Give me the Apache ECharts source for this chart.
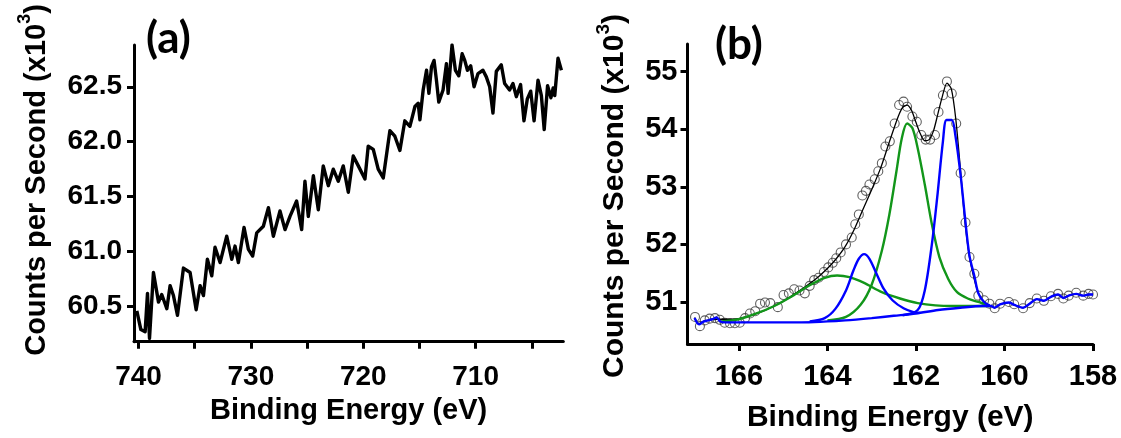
<!DOCTYPE html>
<html>
<head>
<meta charset="utf-8">
<script src="https://cdn.jsdelivr.net/npm/echarts@6/dist/echarts.min.js"></script>
<style>
html,body{margin:0;padding:0;background:#fff;}
#c{width:1121px;height:438px;}
</style>
</head>
<body>
<div id="c"></div>
<script>
// ---------- Panel (a) ----------
const leftEV = [740.15,739.79,739.41,739.2,739.02,738.67,738.22,737.93,737.48,737.19,736.89,736.53,736.0,735.41,734.87,734.52,734.22,733.87,733.48,733.19,732.74,732.15,731.7,731.41,731.11,730.61,730.22,729.84,729.48,728.89,728.44,728.0,727.41,726.96,726.52,725.93,725.48,725.19,724.89,724.44,724.0,723.56,723.11,722.67,722.22,721.78,721.33,720.89,720.44,719.85,719.56,719.11,718.67,718.22,717.63,717.19,716.74,716.3,715.85,715.4,715.11,714.96,714.67,714.37,714.16,713.93,713.7,713.49,713.28,712.9,712.6,712.45,712.1,711.8,711.5,711.2,710.97,710.73,710.44,710.14,709.79,709.35,709.05,708.75,708.46,708.16,707.72,707.42,706.98,706.68,706.38,706.0,705.7,705.4,705.1,704.8,704.45,704.15,703.9,703.6,703.3,703.1,702.96,702.67,702.37];
const leftCPS = [60.46,60.29,60.27,60.62,60.21,60.81,60.54,60.61,60.48,60.69,60.60,60.42,60.85,60.81,60.47,60.69,60.60,60.93,60.78,61.04,60.90,61.14,60.93,61.05,60.90,61.22,61.02,60.96,61.17,61.23,61.40,61.14,61.37,61.20,61.32,61.46,61.20,61.64,61.32,61.69,61.38,61.78,61.60,61.75,61.64,61.78,61.54,61.87,61.78,61.66,61.96,61.93,61.75,61.67,62.10,62.05,61.92,62.19,62.14,62.32,62.35,62.20,62.47,62.65,62.44,62.68,62.74,62.56,62.36,62.47,62.71,62.44,62.88,62.65,62.60,62.80,62.74,62.65,62.69,62.50,62.62,62.65,62.59,62.50,62.26,62.64,62.70,62.53,62.47,62.53,62.41,62.52,62.19,62.39,62.46,62.19,62.56,62.42,62.11,62.51,62.40,62.49,62.42,62.76,62.65];
const leftXLabels = [740,730,720,710];
const leftXTicks = [740,735,730,725,720,715,710,705];
const leftYLabels = [60.5,61.0,61.5,62.0,62.5];

// ---------- Panel (b) ----------
const rawEV = [166.99,166.88,166.77,166.66,166.54,166.43,166.32,166.20,166.09,165.98,165.86,165.75,165.63,165.52,165.41,165.29,165.12,164.99,164.87,164.75,164.63,164.51,164.40,164.30,164.20,164.08,163.98,163.88,163.80,163.70,163.58,163.45,163.37,163.29,163.21,163.13,163.05,162.93,162.85,162.77,162.69,162.59,162.48,162.38,162.28,162.20,162.08,161.98,161.88,161.78,161.68,161.57,161.49,161.39,161.30,161.19,161.09,160.99,160.88,160.79,160.68,160.59,160.46,160.34,160.22,160.10,159.90,159.78,159.58,159.43,159.27,159.11,158.95,158.79,158.67,158.55,158.38,158.22,158.10,158.00];
const rawCPS = [50.74,50.58,50.68,50.71,50.72,50.69,50.64,50.63,50.63,50.64,50.72,50.80,50.84,50.97,50.99,50.98,50.91,51.12,51.15,51.22,51.20,51.15,51.28,51.38,51.42,51.52,51.60,51.68,51.76,51.86,52.00,52.12,52.35,52.52,52.85,52.93,53.04,53.13,53.27,53.41,53.70,53.79,54.10,54.42,54.48,54.39,54.22,54.13,53.90,53.82,53.82,53.90,54.30,54.59,54.83,54.62,54.10,53.24,52.38,51.78,51.49,51.11,51.03,50.97,50.89,50.97,51.00,50.96,50.89,50.98,51.06,51.02,51.10,51.14,51.06,51.11,51.16,51.11,51.14,51.13];

const fitEV = [167.0,166.9,166.78,166.66,166.54,166.45,166.35,166.2,166.0,165.8,165.6,165.4,165.2,165.0,164.8,164.6,164.4,164.2,164.0,163.8,163.6,163.4,163.2,163.0,162.8,162.6,162.4,162.3,162.2,162.1,162.0,161.9,161.8,161.7,161.6,161.5,161.4,161.3,161.2,161.1,161.0,160.9,160.8,160.7,160.6,160.5,160.4,160.3,160.22,160.10,159.90,159.78,159.58,159.43,159.27,159.11,158.95,158.79,158.67,158.55,158.38,158.22,158.10,158.0];
const fitCPS = [50.73,50.62,50.67,50.69,50.70,50.70,50.70,50.70,50.71,50.75,50.80,50.86,50.93,51.01,51.11,51.21,51.32,51.44,51.58,51.75,51.96,52.25,52.60,52.95,53.32,53.78,54.22,54.38,54.42,54.33,54.12,53.92,53.80,53.82,53.98,54.28,54.58,54.80,54.70,54.18,53.35,52.45,51.82,51.45,51.18,51.03,50.97,50.93,50.90,50.96,50.99,50.95,50.90,50.97,51.05,51.02,51.09,51.13,51.07,51.11,51.14,51.11,51.13,51.13];

const baseEV = [167.0,166.9,166.8,166.7,166.6,166.5,166.42,166.3,166.0,165.0,164.3,163.6,163.0,162.5,162.0,161.5,161.0,160.5,160.3,160.22,160.10,159.90,159.78,159.58,159.43,159.27,159.11,158.95,158.79,158.67,158.55,158.38,158.22,158.10,158.0];
const baseCPS = [50.72,50.61,50.66,50.68,50.70,50.73,50.66,50.645,50.645,50.645,50.65,50.68,50.72,50.76,50.80,50.86,50.90,50.93,50.93,50.90,50.96,50.99,50.95,50.90,50.97,51.05,51.02,51.09,51.13,51.07,51.11,51.14,51.11,51.13,51.13];

const blueSmallEV = [164.4,164.06,163.82,163.58,163.41,163.29,163.17,163.05,162.89,162.73,162.53,162.28,162.04,161.9];
const blueSmallCPS = [50.66,50.72,50.88,51.20,51.55,51.75,51.83,51.75,51.49,51.23,51.03,50.89,50.82,50.81];

const blueBigEV = [162.3,161.96,161.8,161.64,161.52,161.39,161.31,161.19,161.11,160.99,160.88,160.79,160.68,160.59,160.46,160.34];
const blueBigCPS = [50.77,50.86,51.20,52.00,52.81,53.79,54.16,54.16,53.90,53.20,52.38,51.80,51.45,51.15,51.00,50.94];

const greenMainEV = [164.0,163.58,163.25,163.0,162.77,162.6,162.44,162.32,162.2,162.08,161.96,161.8,161.64,161.47,161.27,161.07,160.83,160.59,160.34];
const greenMainCPS = [50.68,50.74,50.95,51.30,51.89,52.52,53.27,53.84,54.10,54.02,53.67,53.04,52.35,51.78,51.40,51.17,51.06,51.00,50.94];

const greenBroadEV = [166.4,166.0,165.6,165.2,164.8,164.4,164.06,163.78,163.5,163.17,162.77,162.36,161.96,161.56,161.15,160.34];
const greenBroadCPS = [50.66,50.70,50.80,50.93,51.10,51.29,51.42,51.46,51.43,51.33,51.17,51.06,50.98,50.94,50.93,50.93];

const rightXLabels = [166,164,162,160,158];
const rightYLabels = [51,52,53,54,55];

const pairs = (xs, ys) => xs.map((x, i) => [x, ys[i]]);

const FONT = '"Liberation Sans", Arial, sans-serif';
const BLUE = '#0000ff';
const GREEN = '#12961a';

function axisBase(fs) {
  return {
    axisLine: {show: true, onZero: false, lineStyle: {color: '#000', width: 3}},
    axisTick: {show: true, length: 7, lineStyle: {color: '#000', width: 3}},
    splitLine: {show: false},
    axisLabel: {color: '#000', fontFamily: FONT, fontWeight: 'bold', fontSize: fs}
  };
}

const chart = echarts.init(document.getElementById('c'), null, {renderer: 'canvas'});

const xa0 = axisBase(28);
const ya0 = axisBase(28);
const xa1 = axisBase(29);
const ya1 = axisBase(29);

const option = {
  backgroundColor: '#ffffff',
  animation: false,
  grid: [
    {left: 134, top: 45, width: 429.3, height: 296.7},
    {left: 687.5, top: 44, width: 405.5, height: 303.5}
  ],
  xAxis: [
    Object.assign(xa0, {
      type: 'value', gridIndex: 0, inverse: true, min: 702.2, max: 740.4, position: 'bottom',
      name: 'Binding Energy (eV)', nameLocation: 'middle', nameGap: 55,
      nameTextStyle: {color: '#000', fontFamily: FONT, fontWeight: 'bold', fontSize: 29},
      axisTick: Object.assign(xa0.axisTick, {customValues: leftXTicks}),
      axisLabel: Object.assign(xa0.axisLabel, {customValues: leftXLabels, margin: 22, formatter: v => String(Math.round(v))})
    }),
    Object.assign(xa1, {
      type: 'value', gridIndex: 1, inverse: true, min: 158, max: 167.16, position: 'bottom',
      name: 'Binding Energy (eV)', nameLocation: 'middle', nameGap: 59,
      nameTextStyle: {color: '#000', fontFamily: FONT, fontWeight: 'bold', fontSize: 30},
      axisTick: Object.assign(xa1.axisTick, {customValues: rightXLabels}),
      axisLabel: Object.assign(xa1.axisLabel, {customValues: rightXLabels, margin: 18, formatter: v => String(Math.round(v))})
    })
  ],
  yAxis: [
    Object.assign(ya0, {
      type: 'value', gridIndex: 0, min: 60.18, max: 62.88,
      axisTick: Object.assign(ya0.axisTick, {customValues: leftYLabels}),
      axisLabel: Object.assign(ya0.axisLabel, {customValues: leftYLabels, margin: 12, formatter: v => v.toFixed(1)})
    }),
    Object.assign(ya1, {
      type: 'value', gridIndex: 1, min: 50.27, max: 55.48,
      axisTick: Object.assign(ya1.axisTick, {customValues: rightYLabels}),
      axisLabel: Object.assign(ya1.axisLabel, {customValues: rightYLabels, margin: 10, formatter: v => String(Math.round(v))})
    })
  ],
  series: [
    {
      name: 'Fe 2p', type: 'line', xAxisIndex: 0, yAxisIndex: 0,
      data: pairs(leftEV, leftCPS), showSymbol: false,
      lineStyle: {color: '#000', width: 3.4, join: 'round'}, z: 3
    },
    {
      name: 'raw', type: 'scatter', xAxisIndex: 1, yAxisIndex: 1,
      data: pairs(rawEV, rawCPS), symbol: 'circle', symbolSize: 9,
      itemStyle: {color: 'rgba(255,255,255,0)', borderColor: '#3a3a3a', borderWidth: 1.1}, z: 2
    },
    {
      name: 'fit', type: 'line', xAxisIndex: 1, yAxisIndex: 1,
      data: pairs(fitEV, fitCPS), showSymbol: false, smooth: 0.25,
      lineStyle: {color: '#000', width: 1.3}, z: 3
    },
    {
      name: 'green broad', type: 'line', xAxisIndex: 1, yAxisIndex: 1,
      data: pairs(greenBroadEV, greenBroadCPS), showSymbol: false, smooth: 0.3,
      lineStyle: {color: GREEN, width: 2.4}, z: 4
    },
    {
      name: 'green main', type: 'line', xAxisIndex: 1, yAxisIndex: 1,
      data: pairs(greenMainEV, greenMainCPS), showSymbol: false, smooth: 0.3,
      lineStyle: {color: GREEN, width: 2.4}, z: 4
    },
    {
      name: 'blue small', type: 'line', xAxisIndex: 1, yAxisIndex: 1,
      data: pairs(blueSmallEV, blueSmallCPS), showSymbol: false, smooth: 0.3,
      lineStyle: {color: BLUE, width: 2.4}, z: 5
    },
    {
      name: 'blue main', type: 'line', xAxisIndex: 1, yAxisIndex: 1,
      data: pairs(blueBigEV, blueBigCPS), showSymbol: false, smooth: 0.3,
      lineStyle: {color: BLUE, width: 2.4}, z: 5
    },
    {
      name: 'background', type: 'line', xAxisIndex: 1, yAxisIndex: 1,
      data: pairs(baseEV, baseCPS), showSymbol: false, smooth: 0.3,
      lineStyle: {color: BLUE, width: 2.4}, z: 5
    }
  ],
  graphic: [
    {
      type: 'text', left: 146, top: 17, z: 10,
      style: {text: '(a)', font: 'bold 44px Lato, "Open Sans", sans-serif', fill: '#000'}
    },
    {
      type: 'text', left: 715, top: 23, z: 10,
      style: {text: '(b)', font: 'bold 44px Lato, "Open Sans", sans-serif', fill: '#000'}
    },
    {
      type: 'text', x: 34, y: 180, rotation: Math.PI / 2, z: 10,
      style: {
        text: '{m|Counts per Second (x10}{s|3}{m|)}',
        align: 'center', verticalAlign: 'middle',
        rich: {
          m: {fontFamily: FONT, fontWeight: 'bold', fontSize: 29, fill: '#000', lineHeight: 35, verticalAlign: 'bottom'},
          s: {fontFamily: FONT, fontWeight: 'bold', fontSize: 18, fill: '#000', lineHeight: 35, verticalAlign: 'top'}
        }
      }
    },
    {
      type: 'text', x: 612, y: 196, rotation: Math.PI / 2, z: 10,
      style: {
        text: '{m|Counts per Second (x10}{s|3}{m|)}',
        align: 'center', verticalAlign: 'middle',
        rich: {
          m: {fontFamily: FONT, fontWeight: 'bold', fontSize: 30, fill: '#000', lineHeight: 36, verticalAlign: 'bottom'},
          s: {fontFamily: FONT, fontWeight: 'bold', fontSize: 19, fill: '#000', lineHeight: 36, verticalAlign: 'top'}
        }
      }
    }
  ]
};
chart.setOption(option);
</script>
</body>
</html>
